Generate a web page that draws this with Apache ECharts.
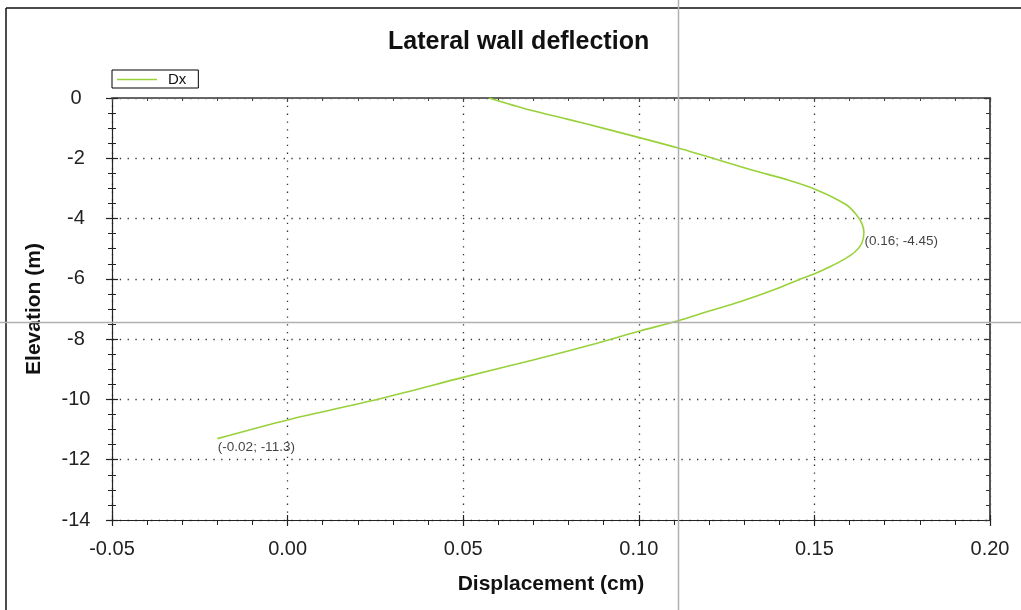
<!DOCTYPE html>
<html>
<head>
<meta charset="utf-8">
<script src="https://cdn.jsdelivr.net/npm/echarts@6/dist/echarts.min.js"></script>
<style>
html,body{margin:0;padding:0;background:#fff;}
#chart{width:1021px;height:610px;}
</style>
</head>
<body>
<div id="chart"></div>
<script>
// ---- data ----
var elevation = [0, -0.40, -0.70, -1.00, -1.66, -2.39, -2.72, -3.05, -3.55, -3.88, -4.16, -4.45, -4.82, -5.10, -5.37, -5.60, -5.85, -6.01, -6.37, -6.76, -7.07, -7.39, -7.73, -8.15, -8.69, -9.26, -9.95, -10.68, -11.3];
var displacement = [0.0573, 0.0690, 0.0796, 0.0898, 0.1112, 0.1322, 0.1425, 0.1507, 0.1592, 0.1620, 0.1635, 0.1641, 0.1635, 0.1616, 0.1582, 0.1544, 0.1497, 0.1459, 0.1383, 0.1288, 0.1200, 0.1112, 0.1003, 0.0876, 0.0699, 0.0502, 0.0272, 0.0, -0.02];
var labelX = [0.1641, -0.02];
var labelY = [-4.45, -11.3];
var labelText = ['(0.16; -4.45)', '(-0.02; -11.3)'];
var xTicks = [-0.05, 0.00, 0.05, 0.10, 0.15, 0.20];
var yTicks = [0, -2, -4, -6, -8, -10, -12, -14];
var seriesName = 'Dx';

var FONT = '"Liberation Sans", Arial, sans-serif';
var lineData = elevation.map(function (e, i) { return [displacement[i], e]; });
var labelData = labelX.map(function (x, i) {
  return { value: [x, labelY[i]], label: { formatter: labelText[i] } };
});

var chart = echarts.init(document.getElementById('chart'));
var grid = { left: 112, right: 31, top: 98, bottom: 90, containLabel: false };

function hideAll(extra) {
  return Object.assign({ axisLabel: { show: false }, splitLine: { show: false }, name: '' }, extra);
}

var option = {
  animation: false,
  backgroundColor: '#fff',
  title: {
    text: 'Lateral wall deflection',
    left: 383, top: 25,
    textStyle: { fontFamily: FONT, fontSize: 25, fontWeight: 'bold', color: '#111' }
  },
  legend: {
    data: [{ name: seriesName, icon: 'rect' }],
    left: 112, top: 70,
    orient: 'horizontal',
    borderColor: '#000', borderWidth: 1, borderRadius: 0,
    padding: [2, 12, 1, 5],
    itemWidth: 40, itemHeight: 1.5, itemGap: 5,
    textStyle: { fontFamily: FONT, fontSize: 15, color: '#111', padding: [0, 0, 0, 6] }
  },
  grid: grid,
  xAxis: [
    {
      type: 'value', position: 'bottom', min: -0.05, max: 0.2, interval: 0.05,
      name: 'Displacement (cm)', nameLocation: 'middle', nameGap: 54,
      nameTextStyle: { fontFamily: FONT, fontSize: 21, fontWeight: 'bold', color: '#111' },
      axisLine: { show: true, onZero: false, lineStyle: { color: '#222', width: 1.2 } },
      axisTick: { show: true, inside: false, length: 6, lineStyle: { color: '#222', width: 1.2 } },
      minorTick: { show: true, splitNumber: 5, length: 5, lineStyle: { color: '#222', width: 1 } },
      axisLabel: {
        fontFamily: FONT, fontSize: 20, color: '#222', margin: 19,
        formatter: function (v) { var t = xTicks.find(function (k) { return Math.abs(k - v) < 1e-9; }); return (t !== undefined ? t : v).toFixed(2); }
      },
      splitLine: { show: true, lineStyle: { color: '#333', width: 1.3, type: [1.3, 6.5] } }
    },
    hideAll({
      type: 'value', position: 'bottom', min: -0.05, max: 0.2, interval: 0.05,
      axisLine: { show: false, onZero: false },
      axisTick: { show: true, inside: true, length: 5, lineStyle: { color: '#222', width: 1.2 } }
    }),
    hideAll({
      type: 'value', position: 'top', min: -0.05, max: 0.2, interval: 0.05,
      axisLine: { show: true, onZero: false, lineStyle: { color: '#666', width: 2 } },
      axisTick: { show: true, inside: true, length: 4, lineStyle: { color: '#444', width: 1.2 } },
      minorTick: { show: true, splitNumber: 5, length: 3, lineStyle: { color: '#444', width: 1 } }
    })
  ],
  yAxis: [
    {
      type: 'value', position: 'left', min: -14, max: 0, interval: 2,
      name: 'Elevation (m)', nameLocation: 'middle', nameGap: 67, nameRotate: 90,
      nameTextStyle: { fontFamily: FONT, fontSize: 21, fontWeight: 'bold', color: '#111' },
      axisLine: { show: true, onZero: false, lineStyle: { color: '#222', width: 1.2 } },
      axisTick: { show: true, inside: false, length: 6, lineStyle: { color: '#222', width: 1.2 } },
      minorTick: { show: true, splitNumber: 4, length: 4, lineStyle: { color: '#222', width: 1 } },
      axisLabel: {
        fontFamily: FONT, fontSize: 20, color: '#222', margin: 36, align: 'center',
        formatter: function (v) { var t = yTicks.find(function (k) { return Math.abs(k - v) < 1e-9; }); return String(t !== undefined ? t : v); }
      },
      splitLine: { show: true, lineStyle: { color: '#333', width: 1.3, type: [1.3, 6.5] } }
    },
    hideAll({
      type: 'value', position: 'left', min: -14, max: 0, interval: 2,
      axisLine: { show: false, onZero: false },
      axisTick: { show: true, inside: true, length: 6, lineStyle: { color: '#222', width: 1.2 } },
      minorTick: { show: true, splitNumber: 4, length: 4, lineStyle: { color: '#222', width: 1 } }
    }),
    hideAll({
      type: 'value', position: 'right', min: -14, max: 0, interval: 2,
      axisLine: { show: true, onZero: false, lineStyle: { color: '#555', width: 2 } },
      axisTick: { show: true, inside: true, length: 6, lineStyle: { color: '#333', width: 1.2 } },
      minorTick: { show: true, splitNumber: 4, length: 4, lineStyle: { color: '#333', width: 1 } }
    })
  ],
  series: [
    {
      name: seriesName, type: 'line', xAxisIndex: 0, yAxisIndex: 0,
      data: lineData, symbol: 'none', smooth: 0.3,
      lineStyle: { color: '#99d13a', width: 1.6 },
      itemStyle: { color: '#99d13a' }
    },
    {
      name: 'labels', type: 'scatter', xAxisIndex: 0, yAxisIndex: 0,
      data: labelData, symbolSize: 1, itemStyle: { color: 'rgba(0,0,0,0)' },
      silent: true,
      label: { show: true, position: 'right', distance: 0, offset: [0, 9],
               fontFamily: FONT, fontSize: 13.5, color: '#111' }
    }
  ],
  graphic: [
    { type: 'line', shape: { x1: 6, y1: 8, x2: 6, y2: 610 }, style: { stroke: '#111', lineWidth: 1.5 }, z: 100 },
    { type: 'line', shape: { x1: 6, y1: 8, x2: 1021, y2: 8 }, style: { stroke: '#111', lineWidth: 1.5 }, z: 100 },
    { type: 'line', shape: { x1: 678.5, y1: 0, x2: 678.5, y2: 610 }, style: { stroke: '#b0b0b0', lineWidth: 1.5 }, z: 100 },
    { type: 'line', shape: { x1: 0, y1: 322.5, x2: 1021, y2: 322.5 }, style: { stroke: '#b0b0b0', lineWidth: 1.5 }, z: 100 }
  ]
};
chart.setOption(option);
</script>
</body>
</html>
